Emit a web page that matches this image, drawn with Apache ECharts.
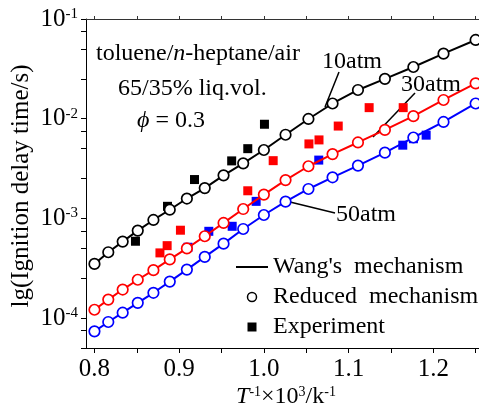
<!DOCTYPE html>
<html>
<head>
<meta charset="utf-8">
<script src="https://cdn.jsdelivr.net/npm/echarts@6/dist/echarts.min.js"></script>
<style>
html,body{margin:0;padding:0;background:#fff;}
#chart{width:479px;height:417px;}
</style>
</head>
<body>
<div id="chart"></div>
<script>
// 1000/T values (T from 1250 K down to 800 K)
var invT = [0.8, 0.8163, 0.8333, 0.8511, 0.8696, 0.8889, 0.9091, 0.9302, 0.9524, 0.9756,
            1.0, 1.0256, 1.0526, 1.0811, 1.1111, 1.1429, 1.1765, 1.2121, 1.25];
// ignition delay (s), Wang's / reduced mechanism
var tau10 = [3.49e-4, 4.57e-4, 5.84e-4, 7.53e-4, 9.63e-4, 1.22e-3, 1.58e-3, 2.01e-3, 2.70e-3, 3.56e-3,
             4.85e-3, 6.90e-3, 9.93e-3, 1.42e-2, 1.94e-2, 2.51e-2, 3.30e-2, 4.49e-2, 6.16e-2];
var tau30 = [1.21e-4, 1.53e-4, 1.93e-4, 2.42e-4, 3.02e-4, 3.87e-4, 4.99e-4, 6.61e-4, 8.99e-4, 1.24e-3,
             1.73e-3, 2.42e-3, 3.33e-3, 4.41e-3, 5.77e-3, 7.71e-3, 1.06e-2, 1.54e-2, 2.26e-2];
var tau50 = [7.35e-5, 9.12e-5, 1.13e-4, 1.42e-4, 1.79e-4, 2.32e-4, 3.06e-4, 4.10e-4, 5.57e-4, 7.82e-4,
             1.08e-3, 1.47e-3, 1.97e-3, 2.58e-3, 3.38e-3, 4.56e-3, 6.47e-3, 9.27e-3, 1.42e-2];
// experiments
var exp10X = [0.8484, 0.8862, 0.9181, 0.962, 0.981, 1.0007];
var exp10Y = [5.89e-4, 1.32e-3, 2.45e-3, 3.77e-3, 5.00e-3, 8.79e-3];
var exp30X = [0.8773, 0.8858, 0.9015, 0.981, 1.011, 1.0532, 1.0651, 1.0878, 1.1243, 1.1645];
var exp30Y = [4.50e-4, 5.32e-4, 7.60e-4, 1.89e-3, 3.79e-3, 5.58e-3, 6.12e-3, 8.43e-3, 1.29e-2, 1.29e-2];
var exp50X = [0.9104, 0.935, 0.9626, 0.9909, 1.0648, 1.164, 1.1766, 1.1916];
var exp50Y = [5.13e-4, 7.41e-4, 8.32e-4, 1.48e-3, 3.84e-3, 5.42e-3, 6.29e-3, 6.83e-3];

var xTicks = [0.8, 0.85, 0.9, 0.95, 1.0, 1.05, 1.1, 1.15, 1.2, 1.25];
var xLabels = [0.8, 0.9, 1.0, 1.1, 1.2];
var yDecades = [-4, -3, -2, -1];

var FONT = "'Liberation Serif', 'Times New Roman', serif";
var colors = ['#000000', '#ff0000', '#0000ff'];

function pairs(xs, ys) {
    return xs.map(function (x, i) { return [x, ys[i]]; });
}

// tick positions on the log scale: decades plus 2.5, 5, 7.5
var yTicks = [];
for (var d = -5; d <= -2; d++) {
    [2.5, 5, 7.5, 10].forEach(function (m) { yTicks.push(d + Math.log10(m)); });
}

var chart = echarts.init(document.getElementById('chart'));

var curves = [tau10, tau30, tau50];
var exps = [[exp10X, exp10Y], [exp30X, exp30Y], [exp50X, exp50Y]];
var series = [];
exps.forEach(function (e, i) {
    series.push({
        name: 'Experiment', type: 'scatter', xAxisIndex: 0, yAxisIndex: 0,
        symbol: 'rect', symbolSize: 9, z: 1,
        itemStyle: {color: colors[i], opacity: 1},
        data: pairs(e[0], e[1])
    });
});
curves.forEach(function (c, i) {
    series.push({
        name: "Wang's  mechanism", type: 'line', xAxisIndex: 0, yAxisIndex: 0,
        symbol: 'none', z: 2,
        lineStyle: {color: colors[i], width: 2},
        itemStyle: {color: colors[i]},
        data: pairs(invT, c)
    });
    series.push({
        name: 'Reduced  mechanism', type: 'scatter', xAxisIndex: 0, yAxisIndex: 0,
        symbol: 'circle', symbolSize: 10.5, z: 3,
        itemStyle: {color: '#fff', borderColor: colors[i], borderWidth: 1.7, opacity: 1},
        data: pairs(invT, c)
    });
});

var option = {
    animation: false,
    backgroundColor: '#fff',
    grid: {left: 86, right: 0, top: 19, bottom: 69, containLabel: false},
    xAxis: [{
        type: 'value', min: 0.79, max: 1.254, position: 'bottom',
        axisLine: {show: true, lineStyle: {color: '#000', width: 1}},
        axisTick: {show: true, inside: false, length: 5, customValues: xTicks, lineStyle: {color: '#000'}},
        axisLabel: {customValues: xLabels, margin: 9, color: '#000', fontFamily: FONT, fontSize: 25,
                    formatter: function (v) { return v.toFixed(1); }},
        splitLine: {show: false}
    }, {
        type: 'value', min: 0.79, max: 1.254, position: 'top',
        axisLine: {show: true, onZero: false, lineStyle: {color: '#333', width: 1}},
        axisTick: {show: true, inside: false, length: 3, customValues: xTicks, lineStyle: {color: '#333'}},
        axisLabel: {show: false},
        splitLine: {show: false}
    }],
    yAxis: [{
        type: 'log', logBase: 10, min: 5e-5, max: 0.1, position: 'left',
        axisLine: {show: true, lineStyle: {color: '#000', width: 1}},
        axisTick: {show: false},
        axisLabel: {show: false},
        splitLine: {show: false}
    }, {
        type: 'value', min: Math.log10(5e-5), max: -1, position: 'left',
        axisLine: {show: false},
        axisTick: {show: true, inside: false, length: 5, customValues: yTicks, lineStyle: {color: '#000'}},
        axisLabel: {
            customValues: yDecades, margin: 8, color: '#000',
            formatter: function (v) { return '{b|10}{s|' + Math.round(v) + '}'; },
            rich: {
                b: {fontFamily: FONT, fontSize: 25, color: '#000'},
                s: {fontFamily: FONT, fontSize: 15, color: '#000', verticalAlign: 'top'}
            }
        },
        splitLine: {show: false}
    }],
    legend: {
        orient: 'vertical', left: 231, top: 250, itemWidth: 32, itemHeight: 9, itemGap: 6,
        selectedMode: false, symbolKeepAspect: true,
        textStyle: {fontFamily: FONT, fontSize: 24, color: '#000'},
        data: [
            {name: "Wang's  mechanism", icon: 'path://M0,0L32,0L32,2L0,2Z', itemStyle: {color: '#000'}},
            {name: 'Reduced  mechanism', icon: 'circle',
             itemStyle: {color: '#fff', borderColor: '#000', borderWidth: 1.5}},
            {name: 'Experiment', icon: 'path://M0,0L10,0L10,10L0,10Z', itemStyle: {color: '#000'}}
        ]
    },
    graphic: [
        {type: 'text', x: 96, y: 54, style: {text: '{t|toluene/}{i|n}{t|-heptane/air}',
            rich: {t: {fontFamily: FONT, fontSize: 24, fill: '#000'},
                   i: {fontFamily: FONT, fontSize: 24, fontStyle: 'italic', fill: '#000'}},
            verticalAlign: 'middle'}},
        {type: 'text', x: 118, y: 89, style: {text: '65/35% liq.vol.', fontFamily: FONT, fontSize: 24,
            fill: '#000', verticalAlign: 'middle'}},
        {type: 'text', x: 137, y: 121, style: {text: '{i|\u03d5}{t| = 0.3}',
            rich: {t: {fontFamily: FONT, fontSize: 24, fill: '#000'},
                   i: {fontFamily: FONT, fontSize: 24, fontStyle: 'italic', fill: '#000'}},
            verticalAlign: 'middle'}},
        {type: 'text', x: 322, y: 62, style: {text: '10atm', fontFamily: FONT, fontSize: 24, fill: '#000', verticalAlign: 'middle'}},
        {type: 'line', shape: {x1: 339, y1: 72, x2: 325, y2: 107}, style: {stroke: '#000', lineWidth: 1.5}},
        {type: 'text', x: 401, y: 85, style: {text: '30atm', fontFamily: FONT, fontSize: 24, fill: '#000', verticalAlign: 'middle'}},
        {type: 'line', shape: {x1: 415, y1: 93, x2: 373, y2: 137}, style: {stroke: '#000', lineWidth: 1.5}},
        {type: 'text', x: 336, y: 215, style: {text: '50atm', fontFamily: FONT, fontSize: 24, fill: '#000', verticalAlign: 'middle'}},
        {type: 'line', shape: {x1: 290, y1: 202, x2: 335, y2: 213}, style: {stroke: '#000', lineWidth: 1.5}},
        {type: 'text', x: 21, y: 186, rotation: Math.PI / 2,
            style: {text: 'lg(Ignition delay time/s)', fontFamily: FONT, fontSize: 25, fill: '#000',
                    align: 'center', verticalAlign: 'middle'}},
        {type: 'text', x: 286, y: 397,
            style: {text: '{i|T}{s|-1}{t|\u00d710}{s|3}{t|/k}{s|-1}', align: 'center', verticalAlign: 'middle',
                rich: {t: {fontFamily: FONT, fontSize: 24, fill: '#000'},
                       i: {fontFamily: FONT, fontSize: 24, fontStyle: 'italic', fill: '#000'},
                       s: {fontFamily: FONT, fontSize: 14, fill: '#000', verticalAlign: 'top'}}}}
    ],
    series: series
};

chart.setOption(option);
</script>
</body>
</html>
